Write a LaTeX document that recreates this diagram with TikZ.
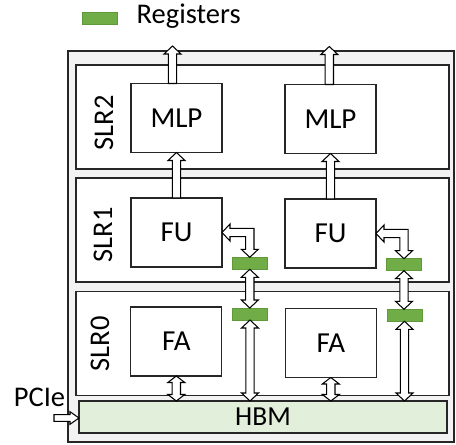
\documentclass[tikz,border=0pt]{standalone}
\usepackage{fontspec}
\setmainfont{Carlito}
\usetikzlibrary{calc}
\definecolor{regGreen}{HTML}{70AD47}
\definecolor{regEdge}{HTML}{5E9A3A}
\definecolor{hbmFill}{HTML}{E2EFDA}
\definecolor{frameFill}{HTML}{F2F2F2}
\def\hw{8.5}\def\hl{8}\def\sw{4.2}
\newcommand\vdblarr[2]{\draw[blk] (#1) -- ++(\hw,\hl) -- ++({\sw-\hw},0) -- ($(#2)+(\sw,-\hl)$) -- ++({\hw-\sw},0) -- (#2) -- ++(-\hw,-\hl) -- ++({\hw-\sw},0) -- ($(#1)+(-\sw,\hl)$) -- ++({\sw-\hw},0) -- cycle;}
\newcommand\upsglarr[2]{\draw[blk] (#1) -- ++(\hw,\hl) -- ++({\sw-\hw},0) -- ($(#2)+(\sw,0)$) -- ($(#2)+(-\sw,0)$) -- ($(#1)+(-\sw,\hl)$) -- ++({\sw-\hw},0) -- cycle;}
\newcommand\rightsglarr[2]{\draw[blk] (#2) -- ++(-\hl,\hw) -- ++(0,{\sw-\hw}) -- ($(#1)+(0,\sw)$) -- ($(#1)+(0,-\sw)$) -- ($(#2)+(-\hl,-\sw)$) -- ++(0,{\sw-\hw}) -- cycle;}
\newcommand\bentarr[2]{\draw[blk] (#1) -- ++(\hl,-\hw) -- ++(0,{\hw-\sw}) -- ($(#2 |- #1)+(\sw,-\sw)$) -- ($(#2)+(\sw,-\hl)$) -- ++({\hw-\sw},0) -- (#2) -- ++(-\hw,-\hl) -- ++({\hw-\sw},0) -- ($(#2 |- #1)+(-\sw,\sw)$) -- ($(#1)+(\hl,\sw)$) -- ++(0,{\hw-\sw}) -- cycle;}
\begin{document}
\begin{tikzpicture}[x=1pt,y=-1pt,
  frame/.style={draw=black!85, fill=frameFill, line width=1.3pt, rectangle, inner sep=0, outer sep=0},
  slr/.style={draw=black!85, fill=white, line width=1.3pt, rectangle, inner sep=0, outer sep=0, minimum width=373pt, minimum height=104pt},
  unit/.style={draw=black!85, fill=white, line width=1.1pt, rectangle, inner sep=0, outer sep=0, minimum width=91pt, minimum height=69pt, font=\fontsize{29}{34}\selectfont},
  reg/.style={draw=regEdge, fill=regGreen, line width=0.8pt, rectangle, inner sep=0, outer sep=0, minimum width=35pt, minimum height=12pt},
  hbmbox/.style={draw=black!85, fill=hbmFill, line width=1.1pt, rectangle, inner sep=0, outer sep=0, minimum width=368pt, minimum height=32pt, font=\fontsize{27.5}{32}\selectfont},
  lbl/.style={font=\fontsize{28.5}{33}\selectfont, inner sep=0},
  blk/.style={draw=black, fill=white, line width=1.05pt, line join=miter}]
\useasboundingbox (0,0) rectangle (456,445);
% legend
\node[reg] (legreg) at (99.5,18) {};
\node[lbl, anchor=base west] (legtxt) at (136.5,23) {Registers};
% chip frame
\node[frame, minimum width=386pt, minimum height=391pt] (chip) at (261,246.5) {};
\node[slr] (slr2) at (262.5,117) {};
\node[slr] (slr1) at (262.5,230) {};
\node[slr] (slr0) at (262.5,343.5) {};
\node[hbmbox] (hbm) at (263,417) {HBM};
\node[lbl, rotate=90] (l2) at (104,123) {SLR2};
\node[lbl, rotate=90] (l1) at (103,235) {SLR1};
\node[lbl, rotate=90] (l0) at (100,344) {SLR0};
% units
\node[unit] (mlp1) at (176.5,118) {MLP};
\node[unit] (mlp2) at (330.5,119) {MLP};
\node[unit] (fu1) at (176.5,232.5) {FU};
\node[unit] (fu2) at (330.5,233.5) {FU};
\node[unit] (fa1) at (176.3,341.5) {FA};
\node[unit] (fa2) at (330.8,343) {FA};
% registers
\node[reg] (r1a) at (249.8,263.3) {};
\node[reg] (r1b) at (404,264.7) {};
\node[reg] (r0a) at (250,314) {};
\node[reg] (r0b) at (404.5,315.3) {};
% PCIe
\node[lbl, anchor=base] (pcie) at (39.5,406) {PCIe};
% outputs
\coordinate (o1) at (172.5,46);
\coordinate (o2) at (329.3,46.5);
\coordinate (ptail) at (54,418);
\upsglarr{o1}{o1 |- mlp1.north}
\upsglarr{o2}{o2 |- mlp2.north}
\upsglarr{mlp1.south}{fu1.north}
\upsglarr{mlp2.south}{fu2.north}
\bentarr{fu1.east}{r1a.north}
\bentarr{fu2.east}{r1b.north}
\vdblarr{r1a.south}{r1a.south |- r0a.north}
\vdblarr{r1b.south}{r1b.south |- r0b.north}
\vdblarr{r0a.south}{r0a.south |- hbm.north}
\vdblarr{r0b.south}{r0b.south |- hbm.north}
\begingroup\def\hl{6.5}
\vdblarr{fa1.south}{fa1.south |- hbm.north}
\vdblarr{fa2.south}{fa2.south |- hbm.north}
\endgroup
\begingroup\def\hw{6.3}\def\sw{3.3}\def\hl{9}
\rightsglarr{ptail}{hbm.west |- ptail}
\endgroup
\end{tikzpicture}
\end{document}
